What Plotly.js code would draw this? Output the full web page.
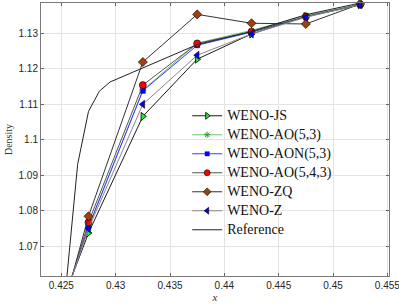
<!DOCTYPE html>
<html><head><meta charset="utf-8">
<script src="https://cdn.plot.ly/plotly-3.0.1.min.js"></script>
<style>html,body{margin:0;padding:0;background:#fff}#g{width:399px;height:305px}</style>
</head><body><div id="g"></div>
<script>
// data
const xs = [0.4225, 0.4275, 0.4325, 0.4375, 0.4425, 0.4475, 0.4525];
const wenoJS   = [1.0335, 1.0738, 1.1066, 1.1227, 1.1298, 1.1347, 1.1380];
const wenoAO53 = [1.0300, 1.0753, 1.1140, 1.1272, 1.1308, 1.1350, 1.1381];
const wenoAON  = [1.0295, 1.0756, 1.1138, 1.1266, 1.1303, 1.1346, 1.1380];
const wenoAO543= [1.0265, 1.0768, 1.1154, 1.1271, 1.1304, 1.1347, 1.1381];
const wenoZQ   = [1.0225, 1.0785, 1.1219, 1.1353, 1.1328, 1.1326, 1.1382];
const wenoZ    = [1.0307, 1.0750, 1.1100, 1.1238, 1.1298, 1.1345, 1.1380];
const refX = [0.4250, 0.4265, 0.4275, 0.4285, 0.4295, 0.4375, 0.4425, 0.4475, 0.4525];
const refY = [1.0450, 1.0931, 1.1080, 1.1137, 1.1163, 1.1268, 1.1305, 1.1352, 1.1385];
const seriesNames = ['WENO-JS', 'WENO-AO(5,3)', 'WENO-AON(5,3)', 'WENO-AO(5,4,3)', 'WENO-ZQ', 'WENO-Z', 'Reference'];
const xTicks = [0.425, 0.43, 0.435, 0.44, 0.445, 0.45, 0.455];
const xTickText = ["0.425", "0.43", "0.435", "0.44", "0.445", "0.45", "0.455"];
const yTicks = [1.07, 1.08, 1.09, 1.1, 1.11, 1.12, 1.13];
const yTickText = ["1.07", "1.08", "1.09", "1.1", "1.11", "1.12", "1.13"];

const xRange = [0.42313, 0.45515];
const yRange = [1.0617, 1.1385];
const msz = (arr, s) => arr.map(v => (v < xRange[0] ? 0 : s));
const lbl = (s) => '<span style="font-size:14px">' + s + '</span>';

function tr(name, y, lineColor, sym, fill, edge, size, edgeW) {
  return {
    x: xs, y: y, name: lbl(name), type: 'scatter', mode: 'lines+markers', cliponaxis: false,
    line: {color: lineColor, width: 1},
    marker: {symbol: sym, color: fill, opacity: 1, size: msz(xs, size), line: {color: edge, width: edgeW}}
  };
}
const traces = [
  tr(seriesNames[0], wenoJS, '#1a1a1a', 'triangle-right', '#22ee22', '#000000', 7, 0.8),
  tr(seriesNames[1], wenoAO53, '#6fbf6f', 'asterisk-open', '#22aa22', '#22aa22', 6, 1),
  tr(seriesNames[2], wenoAON, '#3b3bff', 'square', '#0000ff', '#0000ff', 5, 0.5),
  tr(seriesNames[3], wenoAO543, '#555555', 'circle', '#ff0000', '#000000', 7, 0.6),
  tr(seriesNames[4], wenoZQ, '#333333', 'diamond', '#a0410d', '#000000', 7, 0.6),
  tr(seriesNames[5], wenoZ, '#888888', 'triangle-left', '#0000ff', '#000000', 7, 0.6),
  {x: refX, y: refY, name: lbl(seriesNames[6]), type: 'scatter', mode: 'lines',
   line: {color: '#222222', width: 1}}
];

const tickFont = {family: 'Liberation Sans, Arial, sans-serif', size: 10, color: '#262626'};
const layout = {
  width: 399, height: 305,
  margin: {l: 41, r: 10, t: 3, b: 29, pad: 0},
  paper_bgcolor: '#ffffff', plot_bgcolor: '#ffffff',
  showlegend: true,
  legend: {x: 0.42, y: 0.64, xanchor: 'left', yanchor: 'top', bgcolor: 'rgba(255,255,255,0)',
           borderwidth: 0, font: {family: 'Liberation Serif, Times New Roman, serif', size: 10, color: '#111'}},
  xaxis: {range: xRange, tickvals: xTicks, ticktext: xTickText, tickfont: tickFont, ticklabeloverflow: 'allow',
          ticks: 'inside', ticklen: 3, tickcolor: '#666', showgrid: true, gridcolor: '#e3e3e3',
          showline: true, linecolor: '#7a7a7a', linewidth: 1, mirror: 'ticks', zeroline: false, automargin: false,
          title: {text: '<i>x</i>', font: {family: 'Liberation Serif, serif', size: 11, color: '#333'}, standoff: 2}},
  yaxis: {range: yRange, tickvals: yTicks, ticktext: yTickText, tickfont: tickFont,
          ticks: 'inside', ticklen: 3, tickcolor: '#666', showgrid: true, gridcolor: '#e3e3e3',
          showline: true, linecolor: '#7a7a7a', linewidth: 1, mirror: 'ticks', zeroline: false,
          title: {text: 'Density', font: {family: 'Liberation Serif, serif', size: 10, color: '#333'}, standoff: 4}}
};
Plotly.newPlot('g', traces, layout, {staticPlot: true, displayModeBar: false});
</script>
</body></html>
